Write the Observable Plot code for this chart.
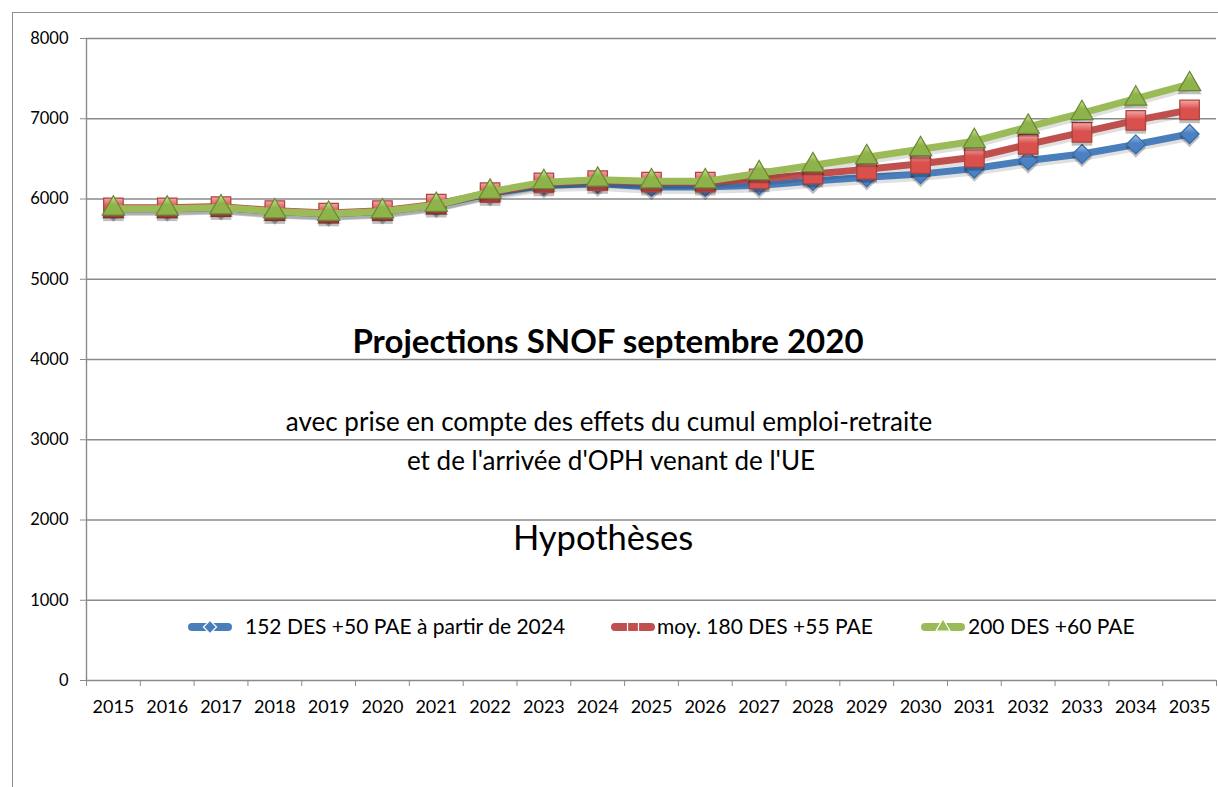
<!DOCTYPE html>
<html>
<head>
<meta charset="utf-8">
<script src="https://cdn.jsdelivr.net/npm/d3@7"></script>
<script src="https://cdn.jsdelivr.net/npm/@observablehq/plot@0.6"></script>
<style>
  html, body { margin: 0; padding: 0; background: #fff; }
  #chart { position: relative; width: 1218px; height: 787px; overflow: hidden; font-family: Lato, "Liberation Sans", sans-serif; }
  #chart svg { position: absolute; left: 0; top: 0; }
  #chart .border { position: absolute; left: 12px; top: 12px; right: -4px; bottom: -4px;
    border-left: 1.5px solid #8e8e8e; border-top: 1.5px solid #8e8e8e; pointer-events: none; }
</style>
</head>
<body>
<div id="chart"><div class="border"></div></div>
<script>
// Years of the projection
const years = [2015, 2016, 2017, 2018, 2019, 2020, 2021, 2022, 2023, 2024, 2025,
               2026, 2027, 2028, 2029, 2030, 2031, 2032, 2033, 2034, 2035];

// Series labels
const seriesNames = [
  "152 DES +50 PAE à partir de 2024",
  "moy. 180 DES +55 PAE",
  "200 DES +60 PAE"
];

// Projected headcount per series
const values152 = [5880, 5880, 5895, 5845, 5815, 5845, 5925, 6070, 6170, 6190, 6150,
                   6150, 6170, 6225, 6270, 6310, 6380, 6480, 6560, 6680, 6810];
const values180 = [5890, 5890, 5905, 5855, 5825, 5855, 5935, 6080, 6200, 6230, 6210,
                   6210, 6250, 6310, 6370, 6440, 6520, 6680, 6830, 6980, 7110];
const values200 = [5880, 5880, 5895, 5845, 5815, 5845, 5925, 6090, 6210, 6240, 6220,
                   6220, 6320, 6420, 6520, 6620, 6720, 6900, 7070, 7250, 7430];

// Y axis tick values
const yTicks = [0, 1000, 2000, 3000, 4000, 5000, 6000, 7000, 8000];

// Title block, one entry per line
const titleLines = [
  "Projections SNOF septembre 2020",
  "",
  "avec prise en compte des effets du cumul emploi-retraite",
  "et de l'arrivée d'OPH venant de l'UE",
  "",
  "Hypothèses"
];

// ---- styling ----
const GRID = "#8a8a8a";
const styles = [
  {id: "s152", stroke: "#4a7ebb", edge: "#3a69a4", top: "#9dc0ec", bottom: "#4a80c4", symbol: "diamond2", r: 8.6},
  {id: "s180", stroke: "#c0504d", edge: "#a94441", top: "#f5a8a6", bottom: "#d9504c", symbol: "square", r: 11},
  {id: "s200", stroke: "#9bbb59", edge: "#6a8634", top: "#cfe797", bottom: "#8fb34b", symbol: "triangle", r: 8.3}
];
const seriesValues = [values152, values180, values200];

const x0 = d3.min(years) - 0.5;
const x1 = d3.max(years) + 0.5;
const bandEdges = d3.range(x0, x1 + 0.5, 1);

const seriesData = seriesValues.map(vals => years.map((year, i) => ({year, value: vals[i]})));

// Each series: soft shadow, line, marker shadow, markers
const seriesMarks = seriesData.flatMap((rows, k) => {
  const s = styles[k];
  return [
    Plot.line(rows, {x: "year", y: "value", stroke: "#000", strokeOpacity: 0.12, strokeWidth: 8,
      strokeLinejoin: "round", strokeLinecap: "round", dy: 3}),
    Plot.line(rows, {x: "year", y: "value", stroke: s.stroke, strokeWidth: 7,
      strokeLinejoin: "round", strokeLinecap: "round"}),
    Plot.dot(rows, {x: "year", y: "value", symbol: s.symbol, r: s.r + 0.6,
      fill: "#000", fillOpacity: 0.25, stroke: "none", dy: 3}),
    Plot.dot(rows, {x: "year", y: "value", symbol: s.symbol, r: s.r,
      fill: `url(#grad-${s.id})`, stroke: s.edge, strokeWidth: 1.2})
  ];
});

const chart = Plot.plot({
  width: 1218,
  height: 787,
  marginLeft: 86,
  marginRight: 2,
  marginTop: 38,
  marginBottom: 107,
  style: {fontFamily: "Lato, 'Liberation Sans', sans-serif", fontSize: "18px", color: "#000", background: "transparent", overflow: "visible"},
  x: {domain: [x0, x1]},
  y: {domain: [0, 8000]},
  marks: [
    Plot.gridY({ticks: yTicks, stroke: GRID, strokeOpacity: 1, strokeWidth: 1.4}),
    Plot.ruleX([x0], {stroke: GRID, strokeWidth: 1.4}),
    Plot.axisY({ticks: yTicks, tickSize: 6, tickPadding: 12, tickFormat: d => String(d),
      stroke: GRID, fontSize: 16.5, label: null}),
    Plot.axisX({ticks: bandEdges, tickSize: 6, tickFormat: () => "", stroke: GRID, label: null}),
    Plot.axisX({ticks: years, tickSize: 0, tickPadding: 20, tickFormat: d => String(d), label: null}),
    ...seriesMarks
  ]
});

// Marker gradients
const svg = d3.select(chart);
const defs = svg.insert("defs", ":first-child");
styles.forEach(s => {
  const g = defs.append("linearGradient").attr("id", `grad-${s.id}`)
    .attr("x1", 0).attr("y1", 0).attr("x2", 0).attr("y2", 1);
  g.append("stop").attr("offset", "0%").attr("stop-color", s.top);
  g.append("stop").attr("offset", "45%").attr("stop-color", s.bottom);
  g.append("stop").attr("offset", "100%").attr("stop-color", s.bottom);
});

const host = document.getElementById("chart");
host.insertBefore(chart, host.firstChild);

// Title block and legend drawn over the plot area
const overlay = d3.select(host).append("svg")
  .attr("width", 1218).attr("height", 787)
  .style("font-family", "Lato, 'Liberation Sans', sans-serif");

const titleLayout = [
  {x: 608, y: 353, size: 33, weight: 700},
  {x: 608, y: 390, size: 26, weight: 400},
  {x: 609, y: 431, size: 26, weight: 400},
  {x: 611, y: 470, size: 26, weight: 400},
  {x: 608, y: 502, size: 26, weight: 400},
  {x: 603, y: 550, size: 34.5, weight: 400}
];
overlay.append("g").selectAll("text").data(titleLines).join("text")
  .attr("x", (d, i) => titleLayout[i].x)
  .attr("y", (d, i) => titleLayout[i].y)
  .attr("text-anchor", "middle")
  .attr("font-size", (d, i) => titleLayout[i].size)
  .attr("font-weight", (d, i) => titleLayout[i].weight)
  .attr("fill", "#000")
  .text(d => d);

// Legend
const legendLayout = [{x: 188, tx: 245}, {x: 611, tx: 657}, {x: 921, tx: 968}];
const legend = overlay.append("g").attr("transform", "translate(0,627)");
styles.forEach((s, k) => {
  const L = legendLayout[k];
  const item = legend.append("g");
  item.append("line").attr("x1", L.x + 4).attr("x2", L.x + 40).attr("y1", 0).attr("y2", 0)
    .attr("stroke", s.stroke).attr("stroke-width", 8).attr("stroke-linecap", "round");
  const cx = L.x + 22;
  const sym = d3.symbol().type(
    s.symbol === "diamond2" ? d3.symbolDiamond2 : s.symbol === "square" ? d3.symbolSquare : d3.symbolTriangle
  ).size(s.symbol === "diamond2" ? 110 : s.symbol === "square" ? 120 : 90);
  item.append("path").attr("d", sym()).attr("transform", `translate(${cx},0)`)
    .attr("fill", s.symbol === "square" ? "none" : s.stroke)
    .attr("stroke", "#fff").attr("stroke-width", 1.2);
  item.append("text").attr("x", L.tx).attr("y", 7).attr("font-size", 21).attr("fill", "#000")
    .text(seriesNames[k]);
});

host.appendChild(host.querySelector(".border"));
</script>
</body>
</html>
